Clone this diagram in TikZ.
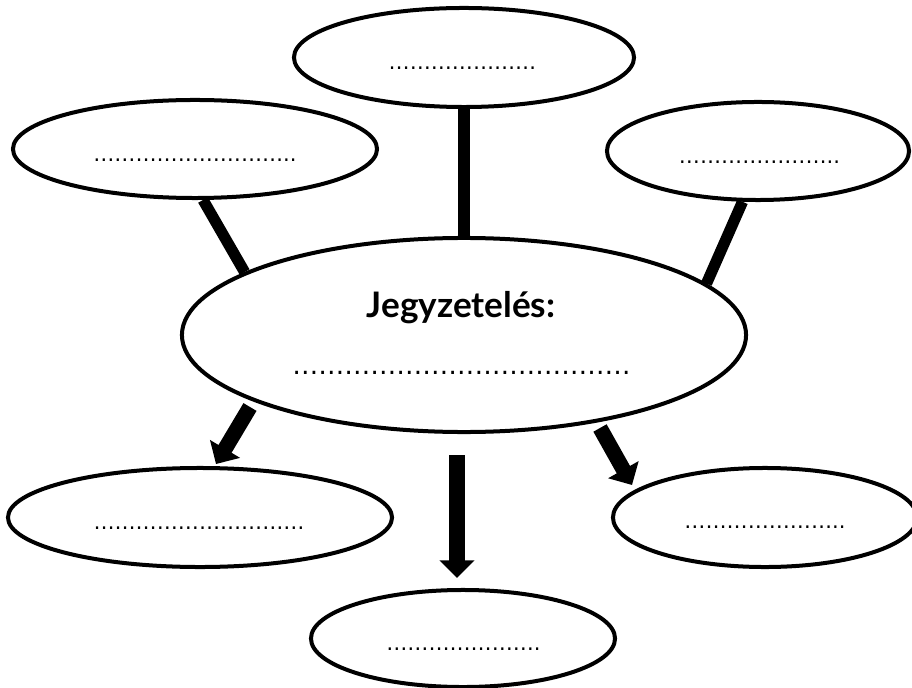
\documentclass[tikz,border=0pt]{standalone}
\usepackage{fontspec}
\setmainfont{Lato}
\newfontfamily\dotfont{DejaVu Sans}
\usetikzlibrary{shapes.geometric,arrows.meta}

\begin{document}
\begin{tikzpicture}[x=0.025cm,y=-0.025cm,
  bubble/.style={draw,ellipse,line width=0.1cm,inner sep=0pt},
  stem/.style={line width=0.28cm},
  blockarrow/.style={line width=0.38cm,-{Triangle[width=0.85cm,length=0.44cm]}},
  dots/.style={anchor=base,font=\dotfont\fontsize{15}{17}\selectfont},
  title/.style={anchor=base,font=\bfseries\fontsize{25}{30}\selectfont}]
\useasboundingbox (0,0) rectangle (912,688);
% bubbles
\node[bubble,minimum width=8.5cm,minimum height=2.475cm] (top) at (464,57.5) {};
\node[bubble,minimum width=9.1cm,minimum height=2.45cm] (lefttop) at (195,149) {};
\node[bubble,minimum width=7.55cm,minimum height=2.45cm] (righttop) at (758,151) {};
\node[bubble,minimum width=14.1cm,minimum height=4.85cm] (main) at (464,335) {};
\node[bubble,minimum width=9.6cm,minimum height=2.475cm] (leftbot) at (200,517.5) {};
\node[bubble,minimum width=7.6cm,minimum height=2.475cm] (rightbot) at (765,517.5) {};
\node[bubble,minimum width=7.6cm,minimum height=2.425cm] (bot) at (463,638.5) {};
% texts
\node[title] (maintitle) at (461,318) {Jegyzetelés:};
\node[dots,font=\dotfont\fontsize{18.5}{21}\selectfont] (maindots) at (461.5,374) {…………………………………};
\node[dots] (topdots) at (462.5,69.5) {…………………};
\node[dots] (lefttopdots) at (195,161.5) {………………………..};
\node[dots] (righttopdots) at (759.5,163.5) {…………………..};
\node[dots] (leftbotdots) at (199,529.5) {…………………………};
\node[dots] (rightbotdots) at (765,528.5) {…………………..};
\node[dots] (botdots) at (463.5,650.5) {………………….};
% stems
\draw[stem] (top.south) -- (main.north);
\draw[stem] (lefttop.279) -- (main.164);
\draw[stem] (righttop.253) -- (main.12);
% arrows
\coordinate (leftfrom) at (250,407);
\coordinate (leftto) at (216,464);
\coordinate (midfrom) at (457,455);
\coordinate (midto) at (457,578);
\coordinate (rightfrom) at (600,428);
\coordinate (rightto) at (632,485);
\draw[blockarrow] (leftfrom) -- (leftto);
\draw[blockarrow] (midfrom) -- (midto);
\draw[blockarrow] (rightfrom) -- (rightto);
\end{tikzpicture}
\end{document}
